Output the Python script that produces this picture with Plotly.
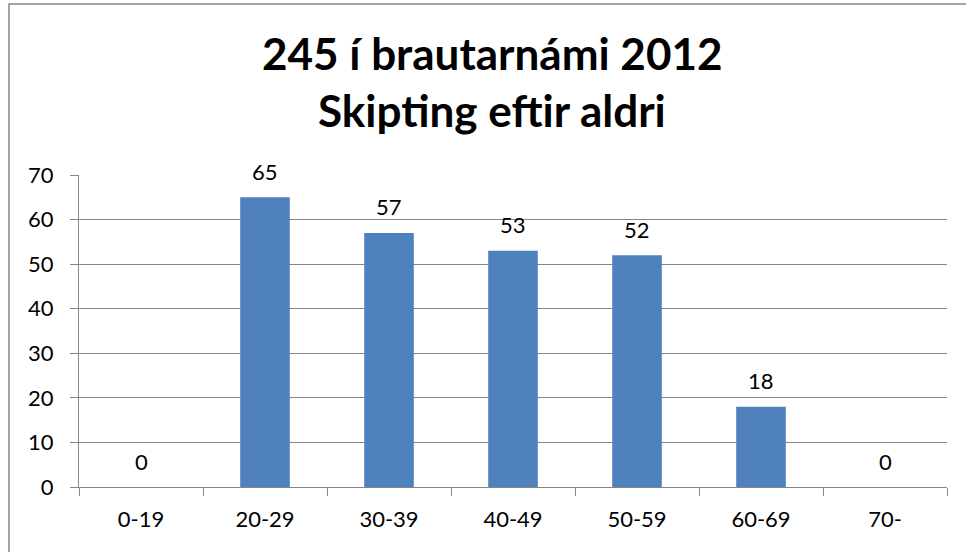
import plotly.graph_objects as go

categories = ["0-19", "20-29", "30-39", "40-49", "50-59", "60-69", "70-"]
values = [0, 65, 57, 53, 52, 18, 0]
title_lines = ["245 í brautarnámi 2012", "Skipting eftir aldri"]

FONT = "Lato"
W, H = 966, 552
L, R, T, B = 79, 19, 175, 65
PW, PH = W - L - R, H - T - B

def px_to_paper_y(y):
    return (H - B - y) / PH

def px_to_paper_x(x):
    return (x - L) / PW

fig = go.Figure()
fig.add_trace(go.Bar(
    x=categories, y=values,
    marker=dict(color="#4F81BD", line=dict(width=0)),
    hoverinfo="x+y",
))

annotations = []
for cat, v in zip(categories, values):
    annotations.append(dict(x=cat, y=v, xref="x", yref="y", text=str(v),
                            showarrow=False, yanchor="middle", yshift=26,
                            font=dict(family=FONT, size=22, color="black")))
title_centers = [53, 110]
for line, yc in zip(title_lines, title_centers):
    annotations.append(dict(x=px_to_paper_x(492), xref="paper",
                            y=px_to_paper_y(yc), yref="paper",
                            text="<b>" + line + "</b>", showarrow=False,
                            xanchor="center", yanchor="middle",
                            font=dict(family=FONT, size=44, color="black")))

fig.update_layout(
    width=W, height=H,
    margin=dict(l=L, r=R, t=T, b=B),
    paper_bgcolor="white", plot_bgcolor="white",
    bargap=0.6,
    showlegend=False,
    font=dict(family=FONT, size=22, color="black"),
    xaxis=dict(showline=True, linecolor="#868686", linewidth=1,
               ticks="outside", ticklen=8, tickcolor="#868686",
               tickson="boundaries", showgrid=False, ticklabelstandoff=13,
               tickfont=dict(family=FONT, size=22)),
    yaxis=dict(range=[0, 70], dtick=10, showline=True, linecolor="#868686",
               linewidth=1, ticks="outside", ticklen=8, tickcolor="#868686",
               showgrid=True, gridcolor="#868686", gridwidth=1,
               ticklabelstandoff=12,
               zeroline=False, tickfont=dict(family=FONT, size=22)),
    annotations=annotations,
    shapes=[dict(type="rect", xref="paper", yref="paper",
                 x0=px_to_paper_x(9), x1=px_to_paper_x(W + 40),
                 y0=px_to_paper_y(H + 40), y1=px_to_paper_y(4),
                 line=dict(color="#868686", width=1.5))],
)
fig.write_html("out.html", config={"displayModeBar": False},
               post_script="document.body.style.margin='0';")
